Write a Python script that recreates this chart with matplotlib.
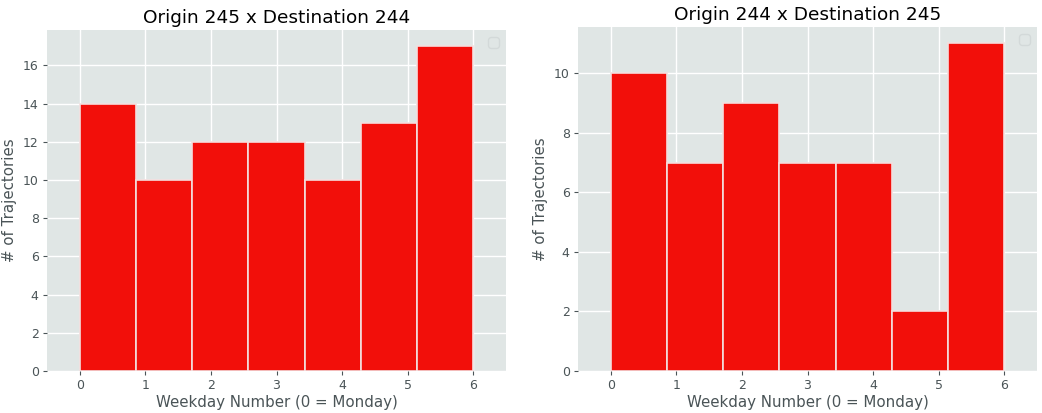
import matplotlib
matplotlib.use('Agg')
import matplotlib.pyplot as plt
import numpy as np

# weekday numbers and trajectory counts
days = [0, 1, 2, 3, 4, 5, 6]
counts_245_244 = [14, 10, 12, 12, 10, 13, 17]
counts_244_245 = [10, 7, 9, 7, 7, 2, 11]

bg = '#e0e6e5'
txt = '#4a5457'
red = '#f20f0a'

plt.rcParams['font.family'] = 'DejaVu Sans'

fig = plt.figure(figsize=(10.42, 4.13), dpi=100)
ax1 = fig.add_axes([47/1042, 1-371/413, 459/1042, 341/413])
ax2 = fig.add_axes([578/1042, 1-371/413, 459/1042, 344/413])

def draw(ax, counts, title):
    ax.set_facecolor(bg)
    ax.hist(days, bins=7, range=(0, 6), weights=counts, color=red,
            edgecolor='#f4dede', linewidth=1.2, zorder=3)
    ax.grid(True, color='white', linewidth=1.0, zorder=0)
    for s in ax.spines.values():
        s.set_visible(False)
    ax.set_xlim(-0.5, 6.5)
    ax.set_xticks(range(7))
    ax.tick_params(colors=txt, labelsize=9, length=3, color=txt, pad=3)
    ax.set_title(title, fontsize=13.3, color='black', pad=5)
    ax.set_xlabel('Weekday Number (0 = Monday)', fontsize=10.8, color=txt, labelpad=2)
    ax.set_ylabel('# of Trajectories', fontsize=10.8, color=txt, labelpad=4)
    leg = ax.legend(handles=[], loc='upper right')
    leg.get_frame().set_edgecolor('#d0d6d6')
    leg.get_frame().set_facecolor(bg)

draw(ax1, counts_245_244, 'Origin 245 x Destination 244')
draw(ax2, counts_244_245, 'Origin 244 x Destination 245')

fig.savefig('out.png', dpi=100)
